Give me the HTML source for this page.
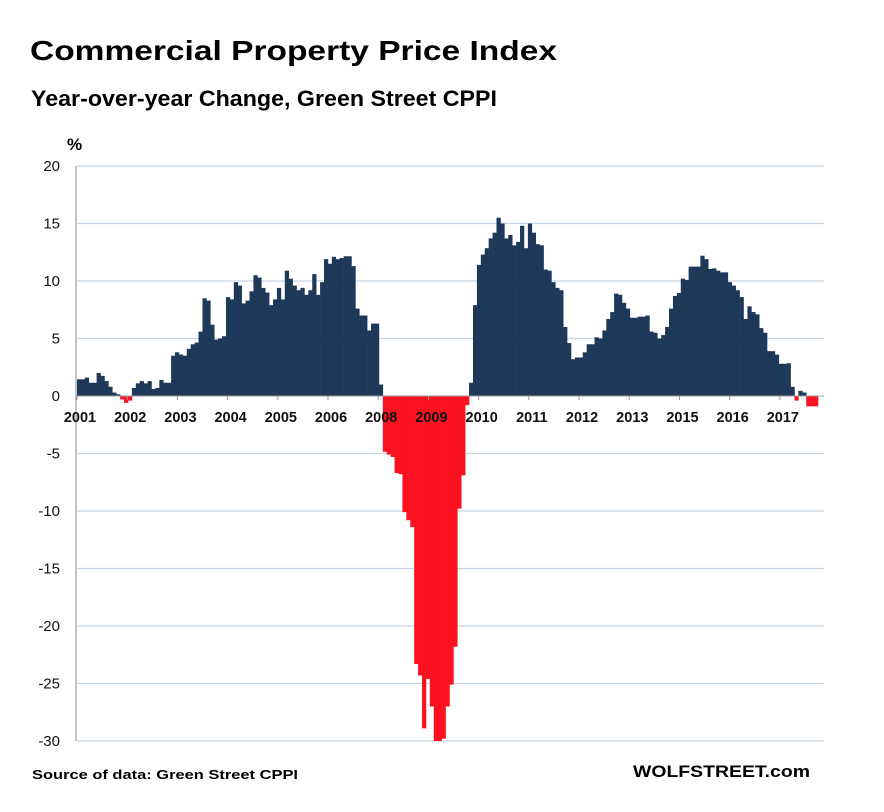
<!DOCTYPE html>
<html><head><meta charset="utf-8"><style>
html,body{margin:0;padding:0;background:#fff;}
svg{display:block;font-family:"Liberation Sans",sans-serif;}
</style></head><body>
<svg id="chart" width="884" height="812" viewBox="0 0 884 812">
<text x="30" y="60" font-size="28" font-weight="bold" textLength="527" lengthAdjust="spacingAndGlyphs">Commercial Property Price Index</text>
<text x="31" y="106" font-size="22" font-weight="bold" textLength="466" lengthAdjust="spacingAndGlyphs">Year-over-year Change, Green Street CPPI</text>
<text x="67" y="150" font-size="17" font-weight="bold">%</text>
<g id="grid"></g><g id="bars"></g><g id="axes"></g>
<text x="32" y="779" font-size="13" font-weight="bold" textLength="266" lengthAdjust="spacingAndGlyphs">Source of data: Green Street CPPI</text>
<text x="633" y="777" font-size="17" font-weight="bold" textLength="177" lengthAdjust="spacingAndGlyphs">WOLFSTREET.com</text>
</svg>
<script>
const yTicks=[20,15,10,5,0,-5,-10,-15,-20,-25,-30];
const yearLabels=["2001","2002","2003","2004","2005","2006","2008","2009","2010","2011","2012","2013","2015","2016","2017"];
const values=[
1.45,1.45,1.6,1.15,1.15,2.0,1.75,1.3,0.8,0.3,0.15,-0.3,
-0.6,-0.4,0.7,1.1,1.3,1.1,1.3,0.6,0.7,1.4,1.15,1.15,
3.5,3.8,3.6,3.5,4.1,4.5,4.65,5.6,8.5,8.3,6.2,4.9,
5.0,5.2,8.6,8.4,9.9,9.6,8.05,8.3,9.1,10.5,10.3,9.4,
9.0,7.9,8.4,9.4,8.4,10.9,10.2,9.6,9.2,9.4,8.8,9.2,
10.6,8.8,9.9,11.9,11.5,12.1,11.9,12.0,12.15,12.15,11.3,7.6,7.0,7.0,5.7,6.3,6.3,1.0,
-4.85,-5.1,-5.3,-6.7,-6.8,-10.1,-10.8,-11.4,-23.3,-24.3,-28.9,-24.6,-27,-30,-30,-29.8,-27,-25.1,-21.8,-9.8,-6.9,-0.8,
1.15,7.9,11.4,12.3,12.85,13.7,14.2,15.5,15.0,13.7,14.0,13.1,13.4,14.8,12.85,15.0,14.2,13.2,13.1,11.0,10.9,9.9,9.4,9.2,6.0,4.6,3.2,3.35,3.35,3.8,4.5,4.5,5.1,5.0,5.7,6.7,7.3,8.9,8.8,8.1,7.6,6.8,6.8,6.9,6.9,7.0,5.6,5.5,5.0,5.3,6.0,7.6,8.7,8.95,10.2,10.1,11.25,11.25,11.25,12.2,11.9,11.05,11.1,10.9,10.75,10.75,9.9,9.6,9.2,8.6,6.7,7.8,7.3,7.1,5.9,5.5,3.9,3.9,3.6,2.8,2.8,2.85,0.8,-0.4,0.45,0.3,-0.9,-0.9,-0.9
];
const NS="http://www.w3.org/2000/svg";
const x0=77,x1=818,yTop=166,yBot=741;
function yScale(v){return yTop+(20-v)*(yBot-yTop)/50;}
const bw=(x1-x0)/values.length;
function xScale(i){return x0+i*bw;}
function mk(t,a,p){const e=document.createElementNS(NS,t);for(const k in a)e.setAttribute(k,a[k]);p.appendChild(e);return e;}
const grid=document.getElementById('grid'),bars=document.getElementById('bars'),axes=document.getElementById('axes');
yTicks.forEach(v=>{
  const y=yScale(v);
  if(v!==0){const l=mk('line',{x1:x0,x2:824,y1:y,y2:y,stroke:'#c6d4e4','stroke-width':1.3},grid);
  
  }
  const t=mk('text',{x:60,y:y+5,'font-size':15,'text-anchor':'end',fill:'#111'},axes);
  t.textContent=v;
  
  
});
values.forEach((v,i)=>{
  const y=yScale(Math.max(v,0)),h=Math.abs(yScale(v)-yScale(0));
  const r=mk('rect',{x:xScale(i),y:y,width:bw+0.3,height:h,fill:v>=0?'#1e3859':'#fa1220'},bars);
  
  
});
const ax=mk('line',{x1:x0-1,x2:x0-1,y1:yTop,y2:yBot,stroke:'#888','stroke-width':1},axes);


const zx=mk('line',{x1:x0,x2:824,y1:yScale(0),y2:yScale(0),stroke:'#999','stroke-width':1},axes);


yearLabels.forEach((lab,k)=>{
  const xx=x0+k*(x1-x0-8)/14.6;
  const tk=mk('line',{x1:xx,x2:xx,y1:yScale(0),y2:yScale(0)+4,stroke:'#999'},axes);
  
  
  const t=mk('text',{x:xx+3,y:yScale(0)+26,'font-size':14.5,'font-weight':'bold','text-anchor':'middle',fill:'#111'},axes);
  t.textContent=lab;
  
  
});
</script>
</body></html>
